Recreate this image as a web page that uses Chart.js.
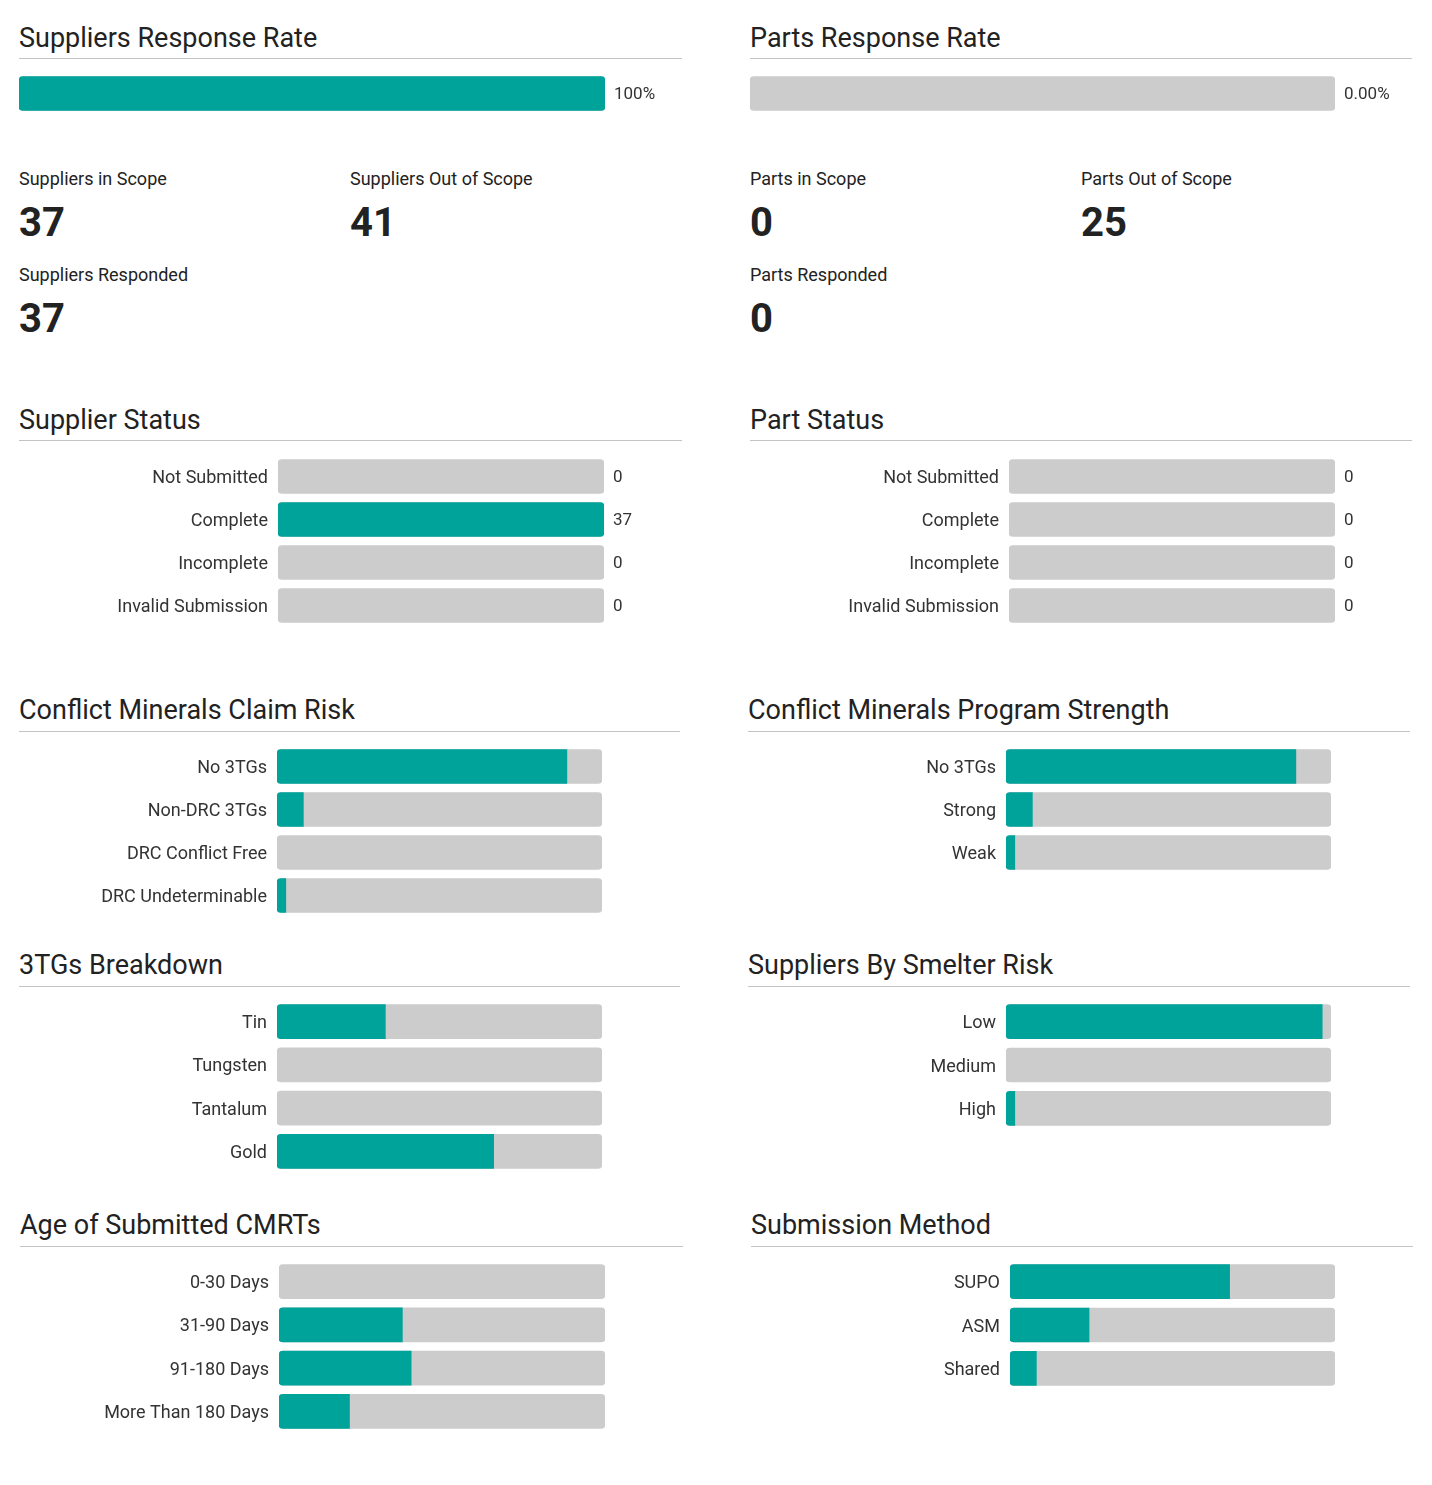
<!DOCTYPE html>
<html>
<head>
<meta charset="utf-8">
<script src="https://cdn.jsdelivr.net/npm/chart.js@4"></script>
<style>
  body { margin: 0; background: #fff; font-family: Roboto, sans-serif; color: #222; }
  #page { position: relative; width: 1432px; height: 1485px; }
  .txt { position: absolute; white-space: nowrap; }
  .rule { position: absolute; height: 1px; background: #c4c4c4; }
  .box { position: absolute; }
</style>
</head>
<body>
<div id="page"></div>
<script>
// ---- data ----
const supplierStatLabels = ['Suppliers in Scope', 'Suppliers Out of Scope', 'Suppliers Responded'];
const supplierStatValues = [37, 41, 37];
const partStatLabels = ['Parts in Scope', 'Parts Out of Scope', 'Parts Responded'];
const partStatValues = [0, 25, 0];

const supplierResponseRate = [100];
const partResponseRate = [0];

const statusLabels = ['Not Submitted', 'Complete', 'Incomplete', 'Invalid Submission'];
const supplierStatusValues = [0, 37, 0, 0];
const partStatusValues = [0, 0, 0, 0];

const claimRiskLabels = ['No 3TGs', 'Non-DRC 3TGs', 'DRC Conflict Free', 'DRC Undeterminable'];
const claimRiskValues = [33, 3, 0, 1];

const programStrengthLabels = ['No 3TGs', 'Strong', 'Weak'];
const programStrengthValues = [33, 3, 1];

const tgLabels = ['Tin', 'Tungsten', 'Tantalum', 'Gold'];
const tgValues = [1, 0, 0, 2];

const smelterRiskLabels = ['Low', 'Medium', 'High'];
const smelterRiskValues = [36, 0, 1];

const cmrtAgeLabels = ['0-30 Days', '31-90 Days', '91-180 Days', 'More Than 180 Days'];
const cmrtAgeValues = [0, 14, 15, 8];

const submissionLabels = ['SUPO', 'ASM', 'Shared'];
const submissionValues = [25, 9, 3];

const TEAL = '#00a39a';
const GREY = '#cccccc';

Chart.defaults.font.family = 'Roboto';
Chart.defaults.color = '#333';
Chart.defaults.animation = false;

const page = document.getElementById('page');

function text(str, x, yc, size, weight) {
    const d = document.createElement('div');
    d.className = 'txt';
    d.textContent = str;
    d.style.left = x + 'px';
    d.style.top = (yc - size / 2) + 'px';
    d.style.fontSize = size + 'px';
    d.style.lineHeight = size + 'px';
    if (weight) d.style.fontWeight = weight;
    page.appendChild(d);
}

function heading(str, x, yc, ruleY, ruleX2) {
    text(str, x, yc + 1, 27);
    const r = document.createElement('div');
    r.className = 'rule';
    r.style.left = x + 'px';
    r.style.top = ruleY + 'px';
    r.style.width = (ruleX2 - x) + 'px';
    page.appendChild(r);
}

// draws value text to the right of each track
const valueLabels = {
    id: 'valueLabels',
    afterDatasetsDraw(chart, args, opts) {
        if (!opts.texts) return;
        const ctx = chart.ctx;
        const meta = chart.getDatasetMeta(1);
        ctx.save();
        ctx.font = '17px Roboto';
        ctx.fillStyle = '#333';
        ctx.textAlign = 'left';
        ctx.textBaseline = 'middle';
        meta.data.forEach((bar, i) => ctx.fillText(opts.texts[i], bar.x + 9, bar.y + 1));
        ctx.restore();
    }
};

/**
 * @param {object} o left, top, axisWidth, trackWidth, rowH, labels, values, total, texts
 */
function barChart(o) {
    const n = o.values.length;
    const rightPad = 80;
    const box = document.createElement('div');
    box.className = 'box';
    box.style.left = o.left + 'px';
    box.style.top = o.top + 'px';
    box.style.width = (o.axisWidth + o.trackWidth + rightPad) + 'px';
    box.style.height = Math.round(n * o.rowH) + 'px';
    const c = document.createElement('canvas');
    box.appendChild(c);
    page.appendChild(box);
    const total = o.total || 1;
    return new Chart(c.getContext('2d'), {
        type: 'bar',
        data: {
            labels: o.labels,
            datasets: [{
                data: o.values.map(v => v > 0 ? v : null),
                backgroundColor: TEAL,
                borderSkipped: false,
                borderRadius: (ctx) => ctx.raw >= total ? 4 : { topLeft: 4, bottomLeft: 4, topRight: 0, bottomRight: 0 },
                barThickness: 34,
                grouped: false,
                order: 0
            }, {
                data: o.values.map(() => total),
                backgroundColor: GREY,
                borderSkipped: false,
                borderRadius: 4,
                barThickness: 34,
                grouped: false,
                order: 1
            }]
        },
        options: {
            indexAxis: 'y',
            responsive: true,
            maintainAspectRatio: false,
            layout: { padding: { left: 0, right: rightPad, top: 0, bottom: 0 } },
            plugins: {
                legend: { display: false },
                tooltip: { enabled: false },
                valueLabels: { texts: o.texts }
            },
            scales: {
                x: { min: 0, max: total, display: false },
                y: {
                    display: o.axisWidth > 0,
                    grid: { display: false, drawTicks: false },
                    border: { display: false },
                    ticks: { padding: 10, labelOffset: 2, color: '#333', font: { size: 18 } },
                    afterFit: (s) => {
                        s.width = o.axisWidth;
                        s.paddingTop = 0;
                        s.paddingBottom = 0;
                    }
                }
            }
        },
        plugins: [valueLabels]
    });
}

// ---- response rates ----
heading('Suppliers Response Rate', 19, 37, 58, 682);
heading('Parts Response Rate', 750, 37, 58, 1412);
barChart({ left: 19, top: 72, axisWidth: 0, trackWidth: 586, rowH: 43, labels: [''],
    values: supplierResponseRate, total: 100, texts: supplierResponseRate.map(v => v + '%') });
barChart({ left: 750, top: 72, axisWidth: 0, trackWidth: 585, rowH: 43, labels: [''],
    values: partResponseRate, total: 100, texts: partResponseRate.map(v => v.toFixed(2) + '%') });

// ---- stats ----
const statPos = [[0, 179], [331, 179], [0, 275]];
supplierStatLabels.forEach((l, i) => {
    text(l, 19 + statPos[i][0], statPos[i][1], 18);
    text(String(supplierStatValues[i]), 19 + statPos[i][0], statPos[i][1] + 44, 40, 700);
});
partStatLabels.forEach((l, i) => {
    text(l, 750 + statPos[i][0], statPos[i][1], 18);
    text(String(partStatValues[i]), 750 + statPos[i][0], statPos[i][1] + 44, 40, 700);
});

// ---- status ----
heading('Supplier Status', 19, 419, 440, 682);
heading('Part Status', 750, 419, 440, 1412);
barChart({ left: 0, top: 455, axisWidth: 278, trackWidth: 326, rowH: 43, labels: statusLabels,
    values: supplierStatusValues, total: 37, texts: supplierStatusValues.map(String) });
barChart({ left: 730, top: 455, axisWidth: 279, trackWidth: 326, rowH: 43, labels: statusLabels,
    values: partStatusValues, total: 0, texts: partStatusValues.map(String) });

// ---- conflict minerals ----
heading('Conflict Minerals Claim Risk', 19, 709, 731, 680);
heading('Conflict Minerals Program Strength', 748, 709, 731, 1410);
barChart({ left: 0, top: 745, axisWidth: 277, trackWidth: 325, rowH: 43, labels: claimRiskLabels,
    values: claimRiskValues, total: 37 });
barChart({ left: 730, top: 745, axisWidth: 276, trackWidth: 325, rowH: 43, labels: programStrengthLabels,
    values: programStrengthValues, total: 37 });

// ---- 3TGs / smelter ----
heading('3TGs Breakdown', 19, 964, 986, 680);
heading('Suppliers By Smelter Risk', 748, 964, 986, 1410);
barChart({ left: 0, top: 1000, axisWidth: 277, trackWidth: 325, rowH: 43.3, labels: tgLabels,
    values: tgValues, total: 3 });
barChart({ left: 730, top: 1000, axisWidth: 276, trackWidth: 325, rowH: 43.3, labels: smelterRiskLabels,
    values: smelterRiskValues, total: 37 });

// ---- CMRT age / submission ----
heading('Age of Submitted CMRTs', 20, 1224, 1246, 683);
heading('Submission Method', 751, 1224, 1246, 1413);
barChart({ left: 0, top: 1260, axisWidth: 279, trackWidth: 326, rowH: 43.3, labels: cmrtAgeLabels,
    values: cmrtAgeValues, total: 37 });
barChart({ left: 730, top: 1260, axisWidth: 280, trackWidth: 325, rowH: 43.3, labels: submissionLabels,
    values: submissionValues, total: 37 });
</script>
</body>
</html>
